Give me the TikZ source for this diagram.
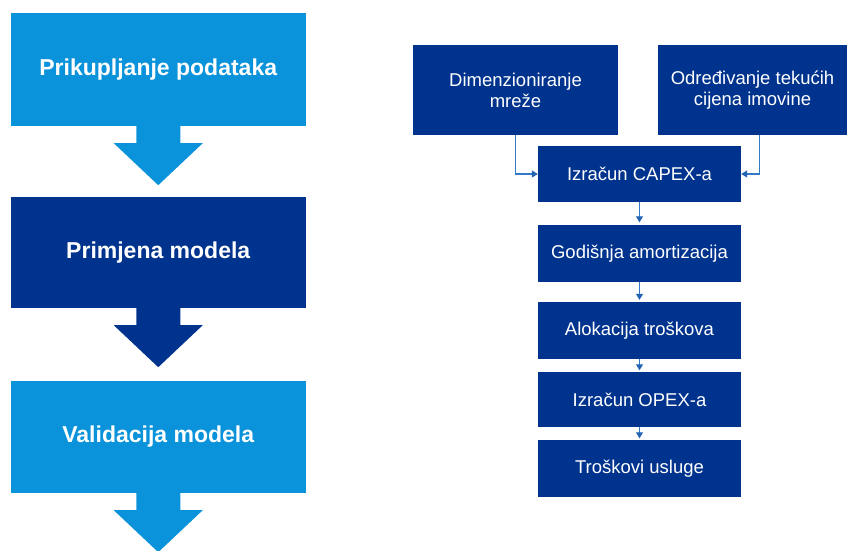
\documentclass[tikz,border=0pt]{standalone}
\usepackage{fontspec}
\setmainfont{Liberation Sans}
\usetikzlibrary{arrows.meta,calc}
\definecolor{lblue}{HTML}{0A93DA}
\definecolor{navy}{HTML}{00338D}
\definecolor{connc}{HTML}{3479C8}
\definecolor{tipc}{HTML}{2263B4}
\begin{document}
\begin{tikzpicture}[x=1pt,y=-1pt,
  bigbox/.style={rectangle, inner sep=0pt, minimum width=294.5pt, text=white,
    font=\fontsize{23}{27}\selectfont\bfseries},
  smallbox/.style={rectangle, fill=navy, inner sep=0pt, text=white, align=center,
    font=\fontsize{18.5}{21}\selectfont},
  conn/.style={draw=connc, line width=1.1pt, -{Triangle[width=7pt,length=6pt,color=tipc]}}]
\useasboundingbox (0,0) rectangle (851,551);

% left column
\node[bigbox, fill=lblue, minimum height=113pt] (b1) at (158.25,69.5) {Prikupljanje podataka};
\node[bigbox, fill=navy,  minimum height=111pt] (b2) at (158.25,252.5) {Primjena modela};
\node[bigbox, fill=lblue, minimum height=112pt] (b3) at (158.25,437) {Validacija modela};

\foreach \b/\c in {b1/lblue,b2/navy,b3/lblue}{
  \fill[\c] ($(\b.south)+(-22,-0.5)$) -- ($(\b.south)+(-22,17)$) -- ($(\b.south)+(-44.5,17)$)
    -- ($(\b.south)+(0,59)$) -- ($(\b.south)+(44.5,17)$) -- ($(\b.south)+(22,17)$)
    -- ($(\b.south)+(22,-0.5)$) -- cycle;
}

% right column
\node[smallbox, minimum width=205pt, minimum height=90pt] (dim) at (515.5,90) {Dimenzioniranje\\mreže};
\node[smallbox, minimum width=188.5pt, minimum height=90pt] (odr) at (752.5,90) {Određivanje tekućih\\cijena imovine};
\node[smallbox, minimum width=203pt, minimum height=56pt] (capex) at (639.5,174) {Izračun CAPEX-a};
\node[smallbox, minimum width=203pt, minimum height=57pt] (god) at (639.5,253.5) {Godišnja amortizacija};
\node[smallbox, minimum width=203pt, minimum height=57pt] (alo) at (639.5,330.5) {Alokacija troškova};
\node[smallbox, minimum width=203pt, minimum height=55pt] (opex) at (639.5,399.5) {Izračun OPEX-a};
\node[smallbox, minimum width=203pt, minimum height=57pt] (tro) at (639.5,468.5) {Troškovi usluge};

\draw[conn] (dim.south) |- (capex.west);
\draw[conn] ($(odr.south)+(7,0)$) |- (capex.east);
\draw[conn, shorten >=2.5pt] (capex) -- (god);
\draw[conn, shorten >=2pt] (god) -- (alo);
\draw[conn, shorten >=1.5pt] (alo) -- (opex);
\draw[conn, shorten >=1.5pt] (opex) -- (tro);
\end{tikzpicture}
\end{document}
